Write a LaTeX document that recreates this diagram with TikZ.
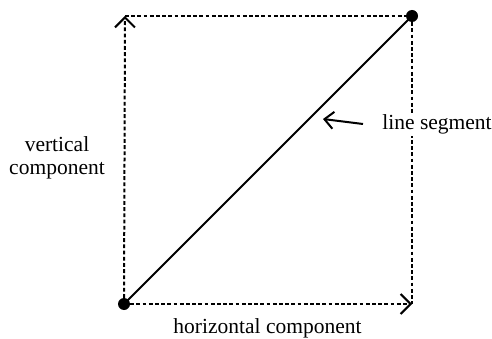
\documentclass[tikz,border=0pt]{standalone}
\usepackage{fontspec}
\setmainfont{Liberation Serif}
\usetikzlibrary{arrows.meta}
\begin{document}
\begin{tikzpicture}[x=1pt,y=-1pt,
  comp/.style={line width=2pt, dash pattern=on 3.8pt off 2.4pt},
  barb/.style={-{Straight Barb[length=10pt,width=20pt,line width=2pt]}},
  dotnode/.style={circle, fill=black, inner sep=0pt, minimum size=12pt},
  lbl/.style={font=\fontsize{21.5}{23}\selectfont, inner sep=1pt, align=center}]
\useasboundingbox (0,0) rectangle (492,339);
\node[dotnode] (bl) at (124,304) {};
\node[dotnode] (tr) at (412,16) {};
\coordinate (tl) at (125,16);
\coordinate (br) at (412,304);
\draw[comp, barb] (bl.center) -- (tl);
\draw[comp, barb] (bl.center) -- (br);
\draw[comp] (tl) -- (tr.center);
\draw[comp] (tr.center) -- (br);
\draw[line width=2pt] (bl.center) -- (tr.center);
\node[lbl, fill=white, anchor=base] (seg) at (437,130) {line segment};
\coordinate (segtip) at (323,119);
\coordinate (segtail) at (363,124);
\draw[line width=2pt, -{Straight Barb[length=9pt,width=17pt,line width=2pt]}] (segtail) -- (segtip);
\node[lbl, anchor=base] (vert) at (57,175) {vertical\\component};
\node[lbl, anchor=base] (horiz) at (267.5,333) {horizontal component};
\end{tikzpicture}
\end{document}
